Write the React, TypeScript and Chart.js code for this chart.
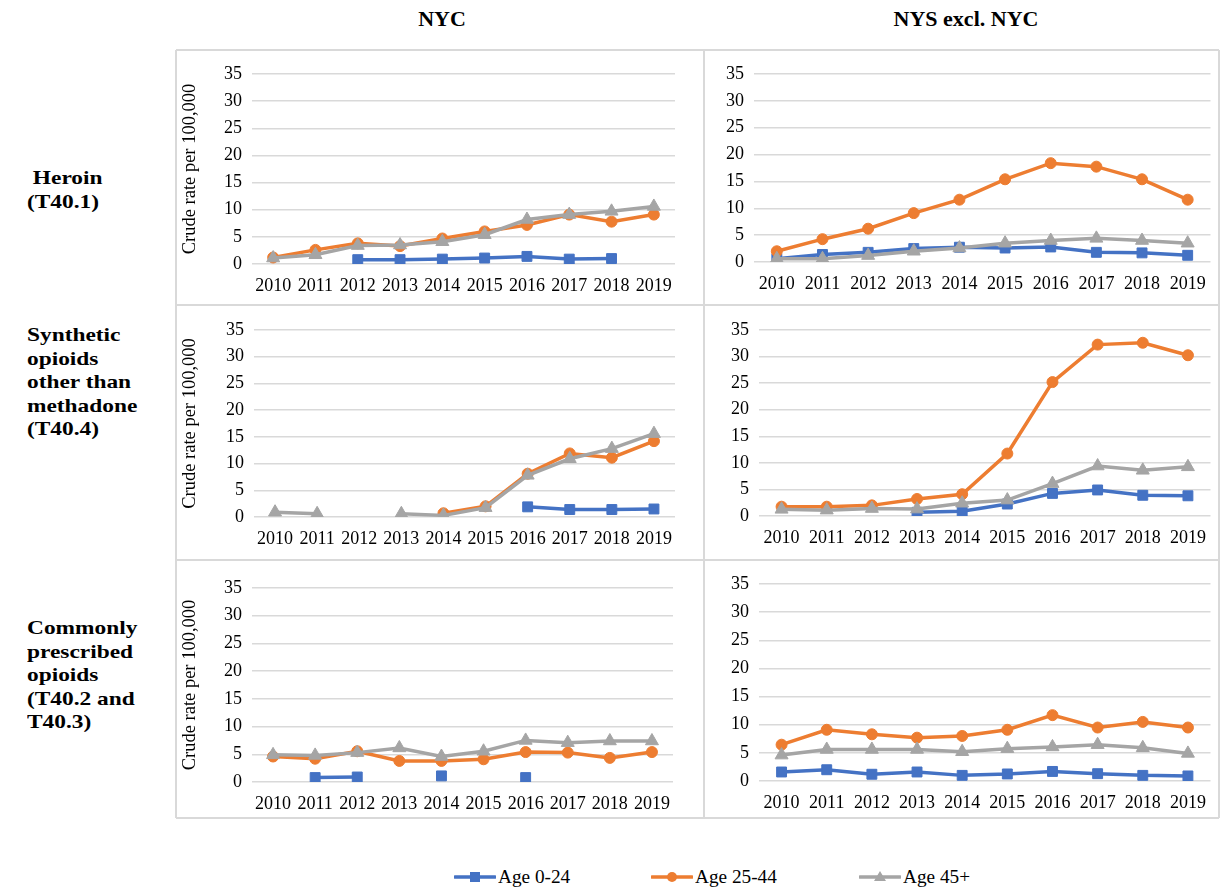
import React, { useEffect, useRef } from "react";
import { Chart, registerables } from "chart.js";

Chart.register(...registerables);

// ---------- DATA ----------
const years = ["2010", "2011", "2012", "2013", "2014", "2015", "2016", "2017", "2018", "2019"];
const seriesNames = ["Age 0-24", "Age 25-44", "Age 45+"];
const columnTitles = ["NYC", "NYS excl. NYC"];
const rowTitles = [
  [" Heroin", "(T40.1)"],
  ["Synthetic", "opioids", "other than", "methadone", "(T40.4)"],
  ["Commonly", "prescribed", "opioids", "(T40.2 and", "T40.3)"],
];
const yAxisTitle = "Crude rate per 100,000";
const yMin = 0;
const yMax = 35;
const yStep = 5;

// Heroin (T40.1) - NYC
const nycHeroinAge0_24 = [null, null, 0.8, 0.8, 0.9, 1.1, 1.4, 0.9, 1.0, null];
const nycHeroinAge25_44 = [1.2, 2.6, 3.8, 3.3, 4.7, 6.0, 7.2, 9.1, 7.8, 9.1];
const nycHeroinAge45 = [1.1, 1.7, 3.4, 3.5, 4.1, 5.4, 8.2, 9.1, 9.7, 10.6];
// Heroin (T40.1) - NYS excl. NYC
const nysHeroinAge0_24 = [0.6, 1.4, 1.8, 2.5, 2.75, 2.6, 2.8, 1.8, 1.7, 1.25];
const nysHeroinAge25_44 = [2.0, 4.25, 6.2, 9.1, 11.6, 15.4, 18.4, 17.75, 15.4, 11.6];
const nysHeroinAge45 = [0.6, 0.6, 1.2, 2.0, 2.6, 3.5, 4.0, 4.4, 4.0, 3.5];
// Synthetic opioids (T40.4) - NYC
const nycSynthAge0_24 = [null, null, null, null, null, null, 1.9, 1.4, 1.4, 1.5];
const nycSynthAge25_44 = [null, null, null, null, 0.7, 2.0, 8.1, 11.9, 11.1, 14.2];
const nycSynthAge45 = [0.9, 0.6, null, 0.6, 0.3, 1.75, 7.8, 10.9, 12.8, 15.6];
// Synthetic opioids (T40.4) - NYS excl. NYC
const nysSynthAge0_24 = [null, null, null, 0.7, 0.9, 2.25, 4.25, 4.9, 3.9, 3.8];
const nysSynthAge25_44 = [1.75, 1.75, 2.0, 3.2, 4.1, 11.75, 25.2, 32.25, 32.6, 30.25];
const nysSynthAge45 = [1.25, 1.1, 1.4, 1.3, 2.4, 3.0, 6.1, 9.4, 8.6, 9.25];
// Commonly prescribed opioids (T40.2 and T40.3) - NYC
const nycRxAge0_24 = [null, 0.8, 0.9, null, 1.1, null, 0.8, null, null, null];
const nycRxAge25_44 = [4.6, 4.2, 5.55, 3.8, 3.8, 4.1, 5.4, 5.3, 4.35, 5.4];
const nycRxAge45 = [4.9, 4.8, 5.3, 6.15, 4.6, 5.55, 7.5, 7.1, 7.4, 7.4];
// Commonly prescribed opioids (T40.2 and T40.3) - NYS excl. NYC
const nysRxAge0_24 = [1.6, 2.0, 1.2, 1.6, 1.0, 1.25, 1.7, 1.3, 1.0, 0.9];
const nysRxAge25_44 = [6.45, 9.1, 8.3, 7.7, 8.0, 9.1, 11.7, 9.5, 10.5, 9.5];
const nysRxAge45 = [4.6, 5.6, 5.6, 5.6, 5.2, 5.75, 6.05, 6.45, 5.9, 4.9];

// ---------- STYLE ----------
const BLUE = "#4472C4";
const ORANGE = "#ED7D31";
const GRAY = "#A5A5A5";
const GRID = "#d9d9d9";
const SERIF = "'Liberation Serif', 'Times New Roman', serif";
const TICK_SIZE = 18;

type Box = { x0: number; y0: number; x1: number; y1: number };
type Plot = { l: number; t: number; r: number; b: number };

const COL_X = [176, 704, 1219];
const ROW_Y = [50, 305, 560, 818];

const panels: { box: Box; plot: Plot; data: (number | null)[][]; title: boolean }[] = [
  { box: { x0: COL_X[0], y0: ROW_Y[0], x1: COL_X[1], y1: ROW_Y[1] }, plot: { l: 252, t: 74, r: 675, b: 264 }, data: [nycHeroinAge0_24, nycHeroinAge25_44, nycHeroinAge45], title: true },
  { box: { x0: COL_X[1], y0: ROW_Y[0], x1: COL_X[2], y1: ROW_Y[1] }, plot: { l: 754, t: 74, r: 1218, b: 262 }, data: [nysHeroinAge0_24, nysHeroinAge25_44, nysHeroinAge45], title: false },
  { box: { x0: COL_X[0], y0: ROW_Y[1], x1: COL_X[1], y1: ROW_Y[2] }, plot: { l: 254, t: 330, r: 675, b: 517 }, data: [nycSynthAge0_24, nycSynthAge25_44, nycSynthAge45], title: true },
  { box: { x0: COL_X[1], y0: ROW_Y[1], x1: COL_X[2], y1: ROW_Y[2] }, plot: { l: 759, t: 330, r: 1218, b: 516 }, data: [nysSynthAge0_24, nysSynthAge25_44, nysSynthAge45], title: false },
  { box: { x0: COL_X[0], y0: ROW_Y[2], x1: COL_X[1], y1: ROW_Y[3] }, plot: { l: 252, t: 588, r: 673, b: 782 }, data: [nycRxAge0_24, nycRxAge25_44, nycRxAge45], title: true },
  { box: { x0: COL_X[1], y0: ROW_Y[2], x1: COL_X[2], y1: ROW_Y[3] }, plot: { l: 759, t: 584, r: 1218, b: 781 }, data: [nysRxAge0_24, nysRxAge25_44, nysRxAge45], title: false },
];

const seriesStyle = [
  { color: BLUE, pointStyle: "rect", radius: 7, order: 2 },
  { color: ORANGE, pointStyle: "circle", radius: 5.5, order: 1 },
  { color: GRAY, pointStyle: "triangle", radius: 7.5, order: 0 },
];

function Panel({ box, plot, data, title }: { box: Box; plot: Plot; data: (number | null)[][]; title: boolean }) {
  const ref = useRef<HTMLCanvasElement>(null);
  const w = box.x1 - box.x0;
  const h = box.y1 - box.y0;
  useEffect(() => {
    const chart = new Chart(ref.current as HTMLCanvasElement, {
      type: "line",
      data: {
        labels: years,
        datasets: data.map((d, i) => ({
          label: seriesNames[i],
          data: d,
          borderColor: seriesStyle[i].color,
          backgroundColor: seriesStyle[i].color,
          pointBackgroundColor: seriesStyle[i].color,
          pointBorderColor: seriesStyle[i].color,
          pointStyle: seriesStyle[i].pointStyle as any,
          pointRadius: seriesStyle[i].radius,
          pointBorderWidth: 1,
          borderWidth: 3.5,
          tension: 0,
          spanGaps: false,
          order: seriesStyle[i].order,
        })),
      },
      options: {
        animation: false,
        responsive: false,
        maintainAspectRatio: false,
        layout: { padding: { left: 0, top: plot.t - box.y0, right: box.x1 - plot.r, bottom: 0 } },
        plugins: { legend: { display: false }, tooltip: { enabled: false } },
        scales: {
          x: {
            offset: true,
            grid: { display: false, drawTicks: false },
            border: { display: false },
            ticks: { padding: 11, color: "#000", font: { family: SERIF, size: TICK_SIZE }, maxRotation: 0, autoSkip: false },
            afterFit: (s: any) => {
              s.height = box.y1 - plot.b;
            },
          },
          y: {
            min: yMin,
            max: yMax,
            ticks: { stepSize: yStep, padding: 10, color: "#000", font: { family: SERIF, size: TICK_SIZE } },
            grid: { color: GRID, lineWidth: 1.5, drawTicks: false },
            border: { display: false },
            title: {
              display: title,
              text: yAxisTitle,
              color: "#000",
              font: { family: SERIF, size: 18.5 },
              padding: { top: 3, bottom: 0 },
            },
            afterFit: (s: any) => {
              s.width = plot.l - box.x0;
            },
          },
        },
      },
    });
    return () => chart.destroy();
  }, []);
  return (
    <canvas
      ref={ref}
      width={w}
      height={h}
      style={{ position: "absolute", left: box.x0, top: box.y0, width: w, height: h }}
    />
  );
}

function LegendIcon({ i }: { i: number }) {
  const c = seriesStyle[i].color;
  let marker: React.ReactNode = null;
  if (i === 0) marker = <rect x={16} y={2} width={10} height={10} fill={c} />;
  if (i === 1) marker = <circle cx={21} cy={7} r={5} fill={c} />;
  if (i === 2) marker = <polygon points="21,1 27,11 15,11" fill={c} />;
  return (
    <svg width={42} height={14} style={{ display: "block" }}>
      <line x1={1} y1={7} x2={41} y2={7} stroke={c} strokeWidth={3.5} strokeLinecap="round" />
      {marker}
    </svg>
  );
}

const legendX = [454, 651, 859];
const legendY = 877;
const rowTitleTop = [166, 323, 616];

export default function App() {
  return (
    <div style={{ position: "absolute", left: 0, top: 0, width: 1225, height: 889, background: "#fff", fontFamily: SERIF }}>
      {/* table grid */}
      {COL_X.map((x, i) => (
        <div key={"v" + i} style={{ position: "absolute", left: x - 1, top: ROW_Y[0], width: 2, height: ROW_Y[3] - ROW_Y[0], background: GRID }} />
      ))}
      {ROW_Y.map((y, i) => (
        <div key={"h" + i} style={{ position: "absolute", left: COL_X[0], top: y - 1, width: COL_X[2] - COL_X[0], height: 2, background: GRID }} />
      ))}
      {/* column titles */}
      {columnTitles.map((t, i) => (
        <div
          key={t}
          style={{
            position: "absolute",
            left: i === 0 ? 342 : 866,
            width: 200,
            top: 7,
            textAlign: "center",
            fontWeight: "bold",
            fontSize: 20,
            lineHeight: "24px",
            transform: "scaleX(1.1)",
            color: "#000",
          }}
        >
          {t}
        </div>
      ))}
      {/* row titles */}
      {rowTitles.map((lines, r) => (
        <div
          key={r}
          style={{
            position: "absolute",
            left: 27,
            top: rowTitleTop[r],
            fontWeight: "bold",
            fontSize: 19,
            lineHeight: "23.5px",
            transform: "scaleX(1.23)",
            transformOrigin: "left top",
            color: "#000",
            whiteSpace: "pre",
          }}
        >
          {lines.map((l, k) => (
            <div key={k}>{l}</div>
          ))}
        </div>
      ))}
      {panels.map((p, i) => (
        <Panel key={i} box={p.box} plot={p.plot} data={p.data} title={p.title} />
      ))}
      {/* legend */}
      {seriesNames.map((n, i) => (
        <div key={n} style={{ position: "absolute", left: legendX[i], top: legendY - 11, display: "flex", alignItems: "center", height: 22 }}>
          <LegendIcon i={i} />
          <span style={{ fontSize: 18, marginLeft: 2, color: "#000", whiteSpace: "nowrap", display: "inline-block", transform: "scaleX(1.07)", transformOrigin: "left center" }}>{n}</span>
        </div>
      ))}
    </div>
  );
}
